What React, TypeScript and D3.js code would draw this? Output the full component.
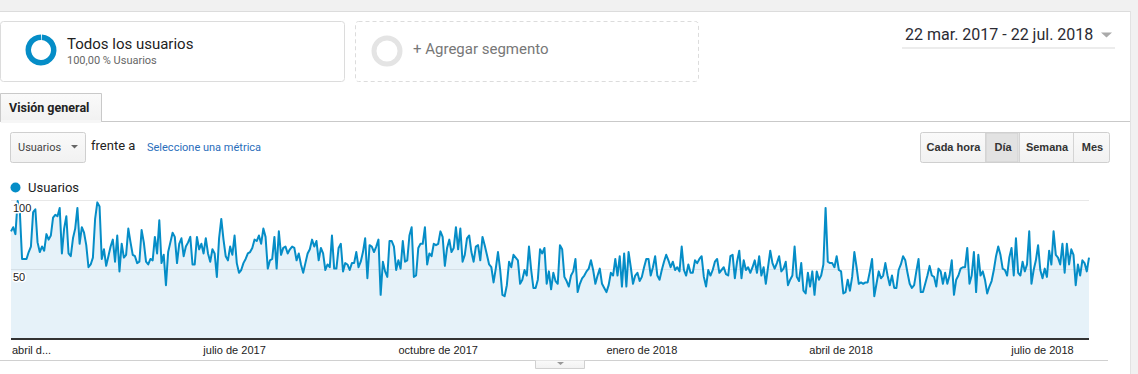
import React from 'react';
import * as d3 from 'd3';

// Usuarios por día, 22 mar. 2017 - 22 jul. 2018
const START_DATE = new Date(Date.UTC(2017, 2, 22));
const END_DATE = new Date(Date.UTC(2018, 6, 22));

// 22 mar. - 30 jul. 2017
const usersSpring2017 = [
    78, 81, 76, 100, 92, 58, 58, 58, 63, 67,
    92, 94, 70, 63, 67, 64, 76, 72, 75, 88,
    90, 89, 95, 62, 80, 89, 62, 60, 73, 80,
    95, 69, 81, 77, 68, 52, 54, 59, 87, 99,
    96, 58, 65, 53, 60, 67, 72, 56, 75, 49,
    69, 59, 61, 80, 70, 61, 60, 55, 56, 79,
    70, 56, 54, 58, 57, 74, 62, 86, 55, 61,
    39, 63, 70, 77, 74, 55, 69, 73, 60, 67,
    70, 74, 54, 54, 74, 65, 69, 62, 73, 62,
    56, 65, 62, 45, 73, 87, 72, 60, 57, 67,
    61, 75, 55, 48, 50, 55, 58, 62, 63, 66,
    72, 71, 75, 69, 80, 74, 51, 57, 58, 74,
    51, 78, 61, 66, 67, 62, 65, 67, 66, 57,
    62,
];

// 31 jul. - 3 dic. 2017
const usersAutumn2017 = [
    54, 48, 55, 62, 65, 72, 67, 71, 57, 66,
    62, 50, 54, 52, 75, 51, 51, 66, 69, 49,
    55, 54, 50, 55, 55, 63, 52, 56, 63,
    73, 44, 68, 67, 63, 67, 72, 32, 56, 49,
    45, 71, 71, 67, 50, 57, 51, 71, 56, 57,
    75, 81, 45, 46, 66, 69, 69, 81, 54, 62,
    60, 69, 68, 69, 78, 74, 53, 66, 72, 63,
    66, 81, 65, 80, 56, 61, 73, 75, 63, 56,
    67, 68, 57, 74, 68, 61, 54, 52, 41,
    51, 63, 50, 32, 31, 39, 56, 52, 61, 59,
    57, 40, 43, 50, 46, 67, 50, 37, 37, 43,
    65, 62, 66, 40, 49, 36, 48, 42, 40, 68,
    65, 45, 42, 38, 46, 49, 58, 34,
];

// 4 dic. 2017 - 9 abr. 2018
const usersWinter2018 = [
    40, 44, 46, 49, 51, 57, 50, 40, 46, 51,
    40, 37, 34, 39, 48, 46, 58, 46, 60, 38,
    62, 38, 63, 52, 40, 46, 48, 42, 45, 52,
    58, 58, 46, 52, 60, 46, 43, 50, 56, 61,
    57, 52, 56, 50, 52, 49, 67, 50, 46, 54,
    48, 48, 57, 55, 58, 60, 45, 38, 50, 46,
    50, 56, 58, 48, 50, 52, 47, 46, 60, 61,
    44, 56, 64, 44, 57, 50, 52, 48, 52, 57,
    48, 60, 46, 52, 40, 52, 64, 55, 51, 55,
    60, 49, 51, 56, 39, 43, 46, 67, 45, 42,
    55, 35, 33, 48, 38, 49, 32, 49, 43, 46,
    54, 95, 56, 55, 55, 52, 60, 50, 49, 33,
    34, 43, 35, 45, 63, 52, 40,
];

// 10 abr. - 22 jul. 2018
const usersSpring2018 = [
    41, 40, 41, 41, 49, 58, 31, 40, 49, 44,
    46, 55, 46, 39, 46, 37, 37, 50, 54, 60,
    57, 48, 40, 37, 39, 49, 58, 34, 34, 40,
    46, 53, 46, 45, 38, 51, 49, 40, 48, 40,
    46, 57, 32, 43, 46, 51, 52, 52, 66, 40,
    46, 63, 34, 61, 46, 49, 43, 33, 38, 42,
    50, 60, 67, 61, 51, 50, 46, 59, 66, 46,
    73, 48, 46, 56, 49, 54, 78, 40, 50, 57,
    68, 50, 44, 51, 45, 64, 54, 78, 61, 59,
    54, 69, 48, 69, 54, 65, 61, 39, 54, 46,
    57, 55, 49, 59,
];

const tickDates = [
    new Date(Date.UTC(2017, 3, 1)),
    new Date(Date.UTC(2017, 6, 1)),
    new Date(Date.UTC(2017, 9, 1)),
    new Date(Date.UTC(2018, 0, 1)),
    new Date(Date.UTC(2018, 3, 1)),
    new Date(Date.UTC(2018, 6, 1)),
];
const tickLabels = ['abril d...', 'julio de 2017', 'octubre de 2017', 'enero de 2018', 'abril de 2018', 'julio de 2018'];
const yTicks = [50, 100];

const intervalButtons = ['Cada hora', 'Día', 'Semana', 'Mes'];
const buttonEdges = [920, 985, 1019, 1073, 1110];

const BLUE = '#058dc7';
const ROBOTO = 'Roboto, "Noto Sans", sans-serif';
const ARIAL = '"Liberation Sans", Arial, sans-serif';

const plot = { left: 11, right: 1089, top: 201, bottom: 339 };

export default function App()
{
    const users = [...usersSpring2017, ...usersAutumn2017, ...usersWinter2018, ...usersSpring2018];
    const series = users.map((v, i) => ({ date: d3.utcDay.offset(START_DATE, i), value: v }));

    const x = d3.scaleUtc().domain([START_DATE, END_DATE]).range([plot.left, plot.right]);
    const y = d3.scaleLinear().domain([0, 100]).range([plot.bottom, plot.top]);

    const line = d3.line<{ date: Date, value: number }>()
        .x((d) => x(d.date))
        .y((d) => y(d.value));
    const area = d3.area<{ date: Date, value: number }>()
        .x((d) => x(d.date))
        .y0(plot.bottom)
        .y1((d) => y(d.value));

    const ring = d3.arc()({ innerRadius: 10, outerRadius: 15.5, startAngle: 0.06, endAngle: Math.PI * 2 } as any);
    const grayRing = d3.arc()({ innerRadius: 10.5, outerRadius: 15.5, startAngle: 0, endAngle: Math.PI * 2 } as any);

    return (
        <div style={ { position: 'absolute', left: 0, top: 0 } }>
            <svg width={ 1138 } height={ 374 } style={ { display: 'block', background: '#fff' } }>
                <defs>
                    <linearGradient id="btn" x1="0" y1="0" x2="0" y2="1">
                        <stop offset="0" stopColor="#fafafa" />
                        <stop offset="1" stopColor="#f1f1f1" />
                    </linearGradient>
                </defs>

                {/* page frame */}
                <rect x={ 0 } y={ 0 } width={ 1138 } height={ 11 } fill="#f1f1f1" />
                <line x1={ 0 } x2={ 1130 } y1={ 11.5 } y2={ 11.5 } stroke="#dcdcdc" />
                <rect x={ 1130 } y={ 0 } width={ 8 } height={ 374 } fill="#f1f1f1" />
                <line x1={ 1130.5 } x2={ 1130.5 } y1={ 11 } y2={ 374 } stroke="#e2e2e2" />

                {/* segments */}
                <rect x={ 0.5 } y={ 21.5 } width={ 344 } height={ 60 } rx={ 3 } fill="#fff" stroke="#dcdcdc" />
                <path d={ ring as string } transform="translate(41,50)" fill={ BLUE } />
                <text x={ 67 } y={ 49 } fontFamily={ ROBOTO } fontSize={ 15 } fill="#222">Todos los usuarios</text>
                <text x={ 67 } y={ 64 } fontFamily={ ROBOTO } fontSize={ 11 } fill="#666">100,00 % Usuarios</text>

                <rect x={ 355.5 } y={ 21.5 } width={ 343 } height={ 60 } rx={ 3 } fill="#fff" stroke="#dcdcdc" strokeDasharray="4 3" />
                <path d={ grayRing as string } transform="translate(387,51)" fill="#e4e4e4" />
                <text x={ 413 } y={ 54 } fontFamily={ ROBOTO } fontSize={ 15 } fill="#777">+ Agregar segmento</text>

                {/* date range */}
                <text x={ 905 } y={ 40 } fontFamily={ ROBOTO } fontSize={ 16 } fill="#2b2b33">22 mar. 2017 - 22 jul. 2018</text>
                <path d="M1101,32.5 L1112,32.5 L1106.5,37.5 Z" fill="#aaa" />
                <rect x={ 902 } y={ 47 } width={ 213 } height={ 2 } fill="#ececec" />

                {/* tab */}
                <line x1={ 0 } x2={ 1130 } y1={ 121.5 } y2={ 121.5 } stroke="#c9c9c9" />
                <path d="M0.5,121.5 V93.5 H101.5 V121.5" fill="url(#btn)" stroke="#c9c9c9" />
                <rect x={ 1 } y={ 120 } width={ 100 } height={ 3 } fill="#f6f6f6" />
                <text x={ 9 } y={ 112 } fontFamily={ ROBOTO } fontSize={ 12.5 } fontWeight="bold" fill="#222">Visión general</text>

                {/* metric selector */}
                <rect x={ 10.5 } y={ 132.5 } width={ 75 } height={ 30 } rx={ 2 } fill="url(#btn)" stroke="#cfcfcf" />
                <text x={ 18 } y={ 151 } fontFamily={ ROBOTO } fontSize={ 11 } fill="#444">Usuarios</text>
                <path d="M71,145 L78,145 L74.5,148.5 Z" fill="#666" />
                <text x={ 91 } y={ 150 } fontFamily={ ROBOTO } fontSize={ 13 } fill="#222">frente a</text>
                <text x={ 147 } y={ 151 } fontFamily={ ROBOTO } fontSize={ 11 } fill="#2a6ebb">Seleccione una métrica</text>

                {/* interval buttons */}
                <rect x={ 920.5 } y={ 132.5 } width={ 189 } height={ 30 } rx={ 2 } fill="url(#btn)" stroke="#cfcfcf" />
                <rect x={ 986 } y={ 133 } width={ 32 } height={ 29 } fill="#e2e2e2" stroke="#d0d0d0" />
                { intervalButtons.map((label, i) => (
                    <g key={ label }>
                        { i > 0 && <line x1={ buttonEdges[i] + 0.5 } x2={ buttonEdges[i] + 0.5 } y1={ 133 } y2={ 162 } stroke="#d4d4d4" /> }
                        <text x={ (buttonEdges[i] + buttonEdges[i + 1]) / 2 + 1 } y={ 151 } textAnchor="middle"
                            fontFamily={ ARIAL } fontSize={ 11 } fontWeight="bold" fill="#333">{ label }</text>
                    </g>
                )) }

                {/* legend */}
                <circle cx={ 15.5 } cy={ 187.5 } r={ 5 } fill={ BLUE } />
                <text x={ 28 } y={ 192 } fontFamily={ ROBOTO } fontSize={ 13 } fill="#222">Usuarios</text>

                {/* chart */}
                <path d={ area(series) ?? '' } fill="#e6f2f9" />
                { yTicks.map((t) => (
                    <line key={ t } x1={ plot.left } x2={ plot.right } y1={ Math.round(y(t)) - 0.5 } y2={ Math.round(y(t)) - 0.5 }
                        stroke={ t === 100 ? '#e8e8e8' : 'rgba(0,0,0,0.07)' } />
                )) }
                <path d={ line(series) ?? '' } fill="none" stroke={ BLUE } strokeWidth={ 2 } strokeLinejoin="round" />
                { yTicks.map((t) => (
                    <text key={ t } x={ 13 } y={ y(t) + 11 } fontFamily={ ARIAL } fontSize={ 11 } fill="#222"
                        stroke="#fff" strokeWidth={ 3 } paintOrder="stroke" strokeLinejoin="round">{ t }</text>
                )) }
                <line x1={ plot.left } x2={ plot.right } y1={ plot.bottom } y2={ plot.bottom } stroke="#333" strokeWidth={ 2 } />
                { tickDates.map((d, i) => (
                    <text key={ i } x={ i === 0 ? 12 : x(d) } y={ 354 } textAnchor={ i === 0 ? 'start' : 'middle' }
                        fontFamily={ ARIAL } fontSize={ 11 } fill="#222">{ tickLabels[i] }</text>
                )) }

                {/* bottom divider with toggle */}
                <line x1={ 0 } x2={ 1108 } y1={ 360.5 } y2={ 360.5 } stroke="#d0d0d0" />
                <path d="M535.5,360.5 V368.5 H584.5 V360.5" fill="url(#btn)" stroke="#d0d0d0" />
                <path d="M557,362 L564,362 L560.5,365 Z" fill="#999" />
            </svg>
        </div>
    );
}
